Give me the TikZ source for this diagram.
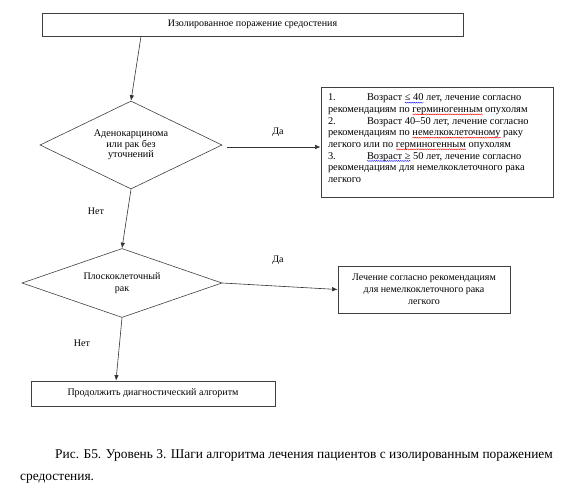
\documentclass[tikz,border=0pt]{standalone}
\usepackage{fontspec}
\setmainfont{Liberation Serif}
\usetikzlibrary{shapes.geometric,arrows.meta,decorations.pathmorphing}

% wavy spell-check marks
\newsavebox\wavebox
\newlength\wavewd
\newcommand\wavy[2]{\sbox\wavebox{#2}\setlength\wavewd{\wd\wavebox}%
  \rlap{\tikz[overlay,baseline=0pt]\draw[#1, line width=0.4pt, decorate,
    decoration={snake, amplitude=0.5pt, segment length=2.2pt}] (0pt,-1.8pt) -- (\wavewd,-1.8pt);}%
  \usebox\wavebox}
\newcommand\itemnum[1]{\makebox[39pt][l]{#1}}

\begin{document}
\begin{tikzpicture}[x=1pt, y=-1pt,
    every node/.style={font=\fontsize{10}{12}\selectfont, inner sep=0pt},
    box/.style={draw=black!75, line width=0.8pt, align=center},
    choice/.style={diamond, draw=black!75, line width=0.6pt, align=center},
    arr/.style={draw=black!80, line width=0.6pt, -{Latex[length=5.5pt,width=4.5pt]}}]
  \useasboundingbox (0,0) rectangle (563,492);

  \node[box, minimum width=421, minimum height=23] (start) at (252.5,24.5) {Изолированное поражение средостения};
  \node[choice, aspect=2.07, minimum width=182, minimum height=88, font=\fontsize{10.2}{10.5}\selectfont] (adeno) at (131,145) {Аденокарцинома\\или рак без\\уточнений};
  \node[box, minimum width=232, minimum height=110, font=\fontsize{10.4}{11.65}\selectfont] (ages) at (437,142) {\parbox[c][96pt][t]{218pt}{\raggedright
      \itemnum{1.}Возраст \wavy{blue}{≤ 40} лет, лечение согласно\\
      рекомендациям по \wavy{red}{герминогенным} опухолям\\
      \itemnum{2.}Возраст 40–50 лет, лечение согласно\\
      рекомендациям по \wavy{red}{немелкоклеточному} раку\\
      легкого или по \wavy{red}{герминогенным} опухолям\\
      \itemnum{3.}\wavy{blue}{Возраст ≥} 50 лет, лечение согласно\\
      рекомендациям для немелкоклеточного рака\\
      легкого}};
  \node[choice, aspect=2.9, minimum width=200, minimum height=69] (squam) at (122,283) {Плоскоклеточный\\рак};
  \node[box, minimum width=172, minimum height=47] (nsclc) at (424,289.5) {Лечение согласно рекомендациям\\для немелкоклеточного рака\\легкого};
  \node[box, minimum width=244, minimum height=25] (cont) at (153,393.5) {Продолжить диагностический алгоритм};

  \node (yes1) at (278,132) {Да};
  \node (yes2) at (278,260) {Да};
  \node (no1) at (96,211) {Нет};
  \node (no2) at (82,343) {Нет};

  \draw[arr] ([xshift=-111.5pt]start.south) -- (adeno.north);
  \draw[arr] ([xshift=5pt,yshift=-2pt]adeno.east) -- ([yshift=-5pt]ages.west);
  \draw[arr] (adeno.south) -- (squam.north);
  \draw[arr] (squam.east) -- (nsclc.west);
  \draw[arr] (squam.south) -- ([xshift=-37pt]cont.north);

  \node[anchor=north west, align=left, font=\fontsize{13.4}{22.8}\selectfont] (caption) at (20,449)
    {\hspace*{35pt}Рис. Б5. Уровень 3. Шаги алгоритма лечения пациентов с изолированным поражением\\средостения.};
\end{tikzpicture}
\end{document}
